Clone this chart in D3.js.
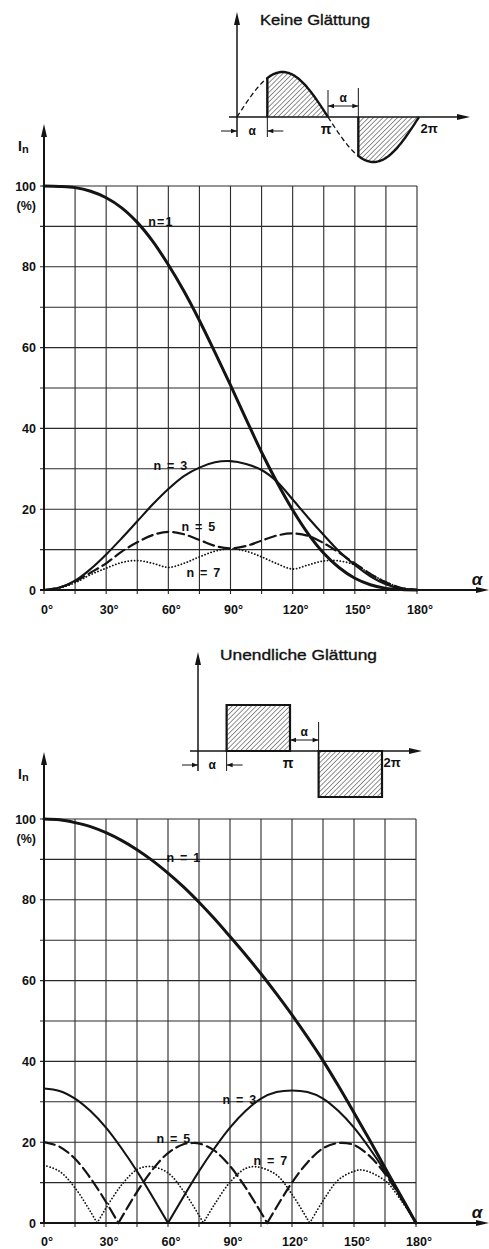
<!DOCTYPE html>
<html>
<head>
<meta charset="utf-8">
<script src="https://cdn.jsdelivr.net/npm/d3@7/dist/d3.min.js"></script>
<style>
  html, body { margin: 0; padding: 0; background: #fff; }
  svg { display: block; }
  text { font-family: "Liberation Sans", Arial, sans-serif; fill: #111; }
</style>
</head>
<body>
<svg id="chart" width="489" height="1249"></svg>
<script>
// ---- Harmonic currents I_n (% of fundamental at alpha = 0) vs. firing angle alpha ----

// Upper panel: no smoothing (phase-cut sine current)
const alphaNoSmooth = [0,7.5,15,22.5,30,37.5,45,52.5,60,67.5,75,82.5,90,97.5,105,112.5,120,127.5,135,142.5,150,157.5,165,172.5,180];
const noSmoothN1 = [100,99.9,99.6,98.7,97.1,94.6,91.0,86.3,80.5,74.0,66.7,58.8,50.7,42.3,34.1,26.6,19.8,13.9,9.1,5.5,2.9,1.3,0.4,0.1,0];
const noSmoothN3 = [0,0.6,2.3,5.2,8.8,12.8,17.0,21.2,25.0,28.2,30.3,31.6,31.9,31.2,29.7,26.8,22.4,17.9,13.6,9.5,6.2,3.4,1.4,0.3,0];
const noSmoothN5 = [0,0.6,2.1,4.3,6.6,9.5,11.8,13.6,14.4,13.8,12.4,10.9,10.3,10.9,12.2,13.5,14.0,13.4,11.6,9.2,6.6,4.0,1.9,0.5,0];
const noSmoothN7 = [0,0.5,1.8,3.8,5.4,6.8,7.3,6.6,5.6,6.6,8.2,9.6,10.2,9.6,8.2,6.5,5.2,6.2,7.2,7.2,6.2,4.0,2.0,0.5,0];

// Lower panel: infinite smoothing (rectangular current blocks)
const alphaFullN1 = [0,7.5,15,22.5,30,37.5,45,52.5,60,67.5,75,82.5,90,97.5,105,112.5,120,127.5,135,142.5,150,157.5,165,172.5,180];
const fullN1 = [100,99.8,99.1,98.1,96.6,94.7,92.4,89.7,86.6,83.2,79.4,75.3,70.9,66.4,61.7,56.7,51.5,46.0,40.2,33.9,27.3,20.6,13.7,6.9,0];
const alphaFullN3 = [0,7.5,15,22.5,30,37.5,45,52.5,60,67.5,75,82.5,90,97.5,105,112.5,120,127.5,135,142.5,150,157.5,165,172.5,180];
const fullN3 = [33.3,32.7,30.8,27.7,23.6,18.5,12.8,6.5,0,6.5,12.8,18.5,23.6,27.7,30.8,32.4,32.8,32.4,30.8,27.7,23.6,18.5,12.8,6.5,0];
const alphaFullN5 = [0,7.5,15,22.5,30,36,45,52.5,60,67.5,72,75,82.5,90,97.5,105,108,112.5,120,127.5,135,142.5,150,157.5,165,172.5,180];
const fullN5 = [20,18.9,15.9,11.1,5.2,0,7.7,13.2,17.3,19.5,19.8,19.7,17.9,14.1,8.8,2.6,0,3.9,10.0,15.0,18.5,19.8,19.3,16.6,12.2,6.4,0];
const alphaFullN7 = [0,7.5,15,22.5,25.7,30,37.5,45,51.4,60,67.5,75,77.1,82.5,90,97.5,102.9,112.5,120,127.5,128.6,135,142.5,150,154.3,165,172.5,180];
const fullN7 = [14.3,12.8,8.7,2.8,0,3.7,9.4,13.2,14.0,12.4,7.9,1.9,0,4.6,10.1,13.5,13.9,11.9,7.1,0.9,0,5.5,10.7,12.8,13.1,10.5,5.8,0];

// Axis ticks
const xTickDeg = [0,30,60,90,120,150,180];
const yTickPct = [0,20,40,60,80,100];
const xGridDeg = d3.range(0, 181, 15);
const yGridPct = d3.range(0, 101, 10);

const svg = d3.select("#chart");
const defs = svg.append("defs");

// diagonal hatching for the waveform sketches
const hatch = defs.append("pattern")
  .attr("id", "hatch").attr("width", 3.4).attr("height", 3.4)
  .attr("patternUnits", "userSpaceOnUse")
  .attr("patternTransform", "rotate(45)");
hatch.append("line").attr("x1", 0).attr("y1", -1).attr("x2", 0).attr("y2", 5)
  .attr("stroke", "#222").attr("stroke-width", 1);

const ink = "#141414";

function arrowUp(g, x, yTip) {
  g.append("path").attr("d", `M${x},${yTip} L${x - 3},${yTip + 13} L${x + 3},${yTip + 13} Z`).attr("fill", ink);
}
function arrowRight(g, xTip, y) {
  g.append("path").attr("d", `M${xTip},${y} L${xTip - 13},${y - 3} L${xTip - 13},${y + 3} Z`).attr("fill", ink);
}

// split a series into arches at interior zeros so the cusps stay sharp
function arches(xs, ys) {
  const pts = xs.map((a, i) => [a, ys[i]]);
  const segs = [];
  let cur = [];
  pts.forEach((p, i) => {
    cur.push(p);
    if (p[1] === 0 && i > 0 && i < pts.length - 1) { segs.push(cur); cur = [p]; }
  });
  segs.push(cur);
  return segs;
}

function panel(cfg) {
  const g = svg.append("g");
  const x = d3.scaleLinear().domain([0, 180]).range([cfg.left, cfg.right]);
  const y = d3.scaleLinear().domain([0, 100]).range([cfg.base, cfg.top]);

  // grid (with small tick stubs past the axes)
  g.append("g").selectAll("line").data(xGridDeg).join("line")
    .attr("x1", d => x(d)).attr("x2", d => x(d))
    .attr("y1", y(100)).attr("y2", y(0) + 4)
    .attr("stroke", "#2a2a2a").attr("stroke-width", 1.1);
  g.append("g").selectAll("line").data(yGridPct).join("line")
    .attr("x1", x(0) - 4).attr("x2", x(180))
    .attr("y1", d => y(d)).attr("y2", d => y(d))
    .attr("stroke", "#2a2a2a").attr("stroke-width", 1.1);

  // axes
  g.append("line").attr("x1", x(0)).attr("x2", x(0)).attr("y1", y(0)).attr("y2", cfg.arrowTop + 6)
    .attr("stroke", ink).attr("stroke-width", 2);
  arrowUp(g, x(0), cfg.arrowTop);
  g.append("line").attr("x1", x(0) - 4).attr("x2", 482).attr("y1", y(0)).attr("y2", y(0))
    .attr("stroke", ink).attr("stroke-width", 2.2);
  arrowRight(g, 489, y(0));

  // tick labels
  g.append("g").selectAll("text").data(yTickPct).join("text")
    .attr("x", 36).attr("y", d => y(d) + 4.5)
    .attr("text-anchor", "end").attr("font-size", 12.5).attr("font-weight", "bold")
    .text(d => d);
  g.append("text").attr("x", 36).attr("y", y(100) + 24)
    .attr("text-anchor", "end").attr("font-size", 12.5).attr("font-weight", "bold").text("(%)");
  g.append("g").selectAll("text").data(xTickDeg).join("text")
    .attr("x", d => x(d) + 3).attr("y", cfg.base + cfg.xLabelDy)
    .attr("text-anchor", "middle").attr("font-size", 12.5).attr("font-weight", "bold")
    .text(d => d + "°");

  // axis titles
  const yl = g.append("text").attr("x", 18).attr("y", cfg.arrowTop + 27)
    .attr("font-size", 14).attr("font-weight", "bold");
  yl.append("tspan").text("I");
  yl.append("tspan").attr("font-size", 11).attr("dy", 2).text("n");
  g.append("text").attr("x", 477).attr("y", y(0) - 5).attr("text-anchor", "middle")
    .attr("font-family", "DejaVu Sans").attr("font-size", 17).attr("font-weight", "bold")
    .attr("font-style", "italic").text("α");

  const styles = {
    1: { w: 3.0, dash: null },
    3: { w: 2.1, dash: null },
    5: { w: 2.2, dash: "11 5" },
    7: { w: 1.8, dash: "0.1 3.1" }
  };
  const line = d3.line().x(d => x(d[0])).y(d => y(d[1])).curve(d3.curveCatmullRom.alpha(0.5));

  cfg.series.forEach(s => {
    const st = styles[s.n];
    const segs = cfg.split ? arches(s.alpha, s.values) : [s.alpha.map((a, i) => [a, s.values[i]])];
    segs.forEach(seg => {
      g.append("path").attr("d", line(seg)).attr("fill", "none")
        .attr("stroke", ink).attr("stroke-width", st.w)
        .attr("stroke-linecap", "round").attr("stroke-linejoin", "round")
        .attr("stroke-dasharray", st.dash);
    });
  });

  cfg.labels.forEach(l => {
    g.append("text").attr("x", l.x).attr("y", l.y).attr("text-anchor", "middle")
      .attr("font-size", 12.5).attr("font-weight", "bold").attr("letter-spacing", 1.2)
      .text(l.t);
  });
  return g;
}

panel({
  left: 44, right: 417, base: 590, top: 186, arrowTop: 124, xLabelDy: 24, split: false,
  series: [
    { n: 1, alpha: alphaNoSmooth, values: noSmoothN1 },
    { n: 3, alpha: alphaNoSmooth, values: noSmoothN3 },
    { n: 5, alpha: alphaNoSmooth, values: noSmoothN5 },
    { n: 7, alpha: alphaNoSmooth, values: noSmoothN7 }
  ],
  labels: [
    { t: "n=1", x: 161, y: 226 },
    { t: "n = 3", x: 171, y: 470 },
    { t: "n = 5", x: 199, y: 531 },
    { t: "n = 7", x: 204, y: 577 }
  ]
});

panel({
  left: 44, right: 416, base: 1223, top: 819, arrowTop: 752, xLabelDy: 23, split: true,
  series: [
    { n: 1, alpha: alphaFullN1, values: fullN1 },
    { n: 3, alpha: alphaFullN3, values: fullN3 },
    { n: 5, alpha: alphaFullN5, values: fullN5 },
    { n: 7, alpha: alphaFullN7, values: fullN7 }
  ],
  labels: [
    { t: "n = 1", x: 184, y: 862 },
    { t: "n = 3", x: 240, y: 1104 },
    { t: "n = 5", x: 174, y: 1143 },
    { t: "n = 7", x: 271, y: 1165 }
  ]
});

// ---- Waveform sketches ----
function dimArrows(g, xa, xb, yy, inward) {
  // arrowheads touching the extension lines
  const a = 6, h = 2.3;
  if (inward) {
    g.append("line").attr("x1", xa).attr("x2", xb).attr("y1", yy).attr("y2", yy).attr("stroke", ink).attr("stroke-width", 1);
    g.append("path").attr("d", `M${xa},${yy} L${xa + a},${yy - h} L${xa + a},${yy + h} Z`).attr("fill", ink);
    g.append("path").attr("d", `M${xb},${yy} L${xb - a},${yy - h} L${xb - a},${yy + h} Z`).attr("fill", ink);
  } else {
    g.append("line").attr("x1", xa - 16).attr("x2", xa).attr("y1", yy).attr("y2", yy).attr("stroke", ink).attr("stroke-width", 1);
    g.append("line").attr("x1", xb).attr("x2", xb + 16).attr("y1", yy).attr("y2", yy).attr("stroke", ink).attr("stroke-width", 1);
    g.append("path").attr("d", `M${xa},${yy} L${xa - a},${yy - h} L${xa - a},${yy + h} Z`).attr("fill", ink);
    g.append("path").attr("d", `M${xb},${yy} L${xb + a},${yy - h} L${xb + a},${yy + h} Z`).attr("fill", ink);
  }
}

function sketch(cfg) {
  const g = svg.append("g");
  const sx = d3.scaleLinear().domain([0, 2 * Math.PI]).range([cfg.x0, cfg.x0 + 2 * cfg.piW]);
  const sy = d3.scaleLinear().domain([-1, 1]).range([cfg.y0 + cfg.amp, cfg.y0 - cfg.amp]);
  const a = cfg.alphaDeg * Math.PI / 180;
  const PI = Math.PI;

  g.append("text").attr("x", cfg.titleX).attr("y", cfg.titleY).attr("font-family", "DejaVu Sans")
    .attr("font-size", 14.5).attr("stroke", ink).attr("stroke-width", 0.35)
    .attr("textLength", cfg.titleW).attr("lengthAdjust", "spacingAndGlyphs").text(cfg.title);

  // axes
  g.append("line").attr("x1", sx(0)).attr("x2", sx(0)).attr("y1", cfg.y0 + 20).attr("y2", cfg.axisTop + 8)
    .attr("stroke", ink).attr("stroke-width", 1.5);
  arrowUp(g, sx(0), cfg.axisTop);
  g.append("line").attr("x1", sx(0) - 8).attr("x2", cfg.axisEnd - 6).attr("y1", cfg.y0).attr("y2", cfg.y0)
    .attr("stroke", ink).attr("stroke-width", 1.6);
  arrowRight(g, cfg.axisEnd, cfg.y0);

  const lg = d3.line().x(d => sx(d[0])).y(d => sy(d[1]));
  const samp = (t0, t1, f) => d3.range(0, 41).map(i => { const t = t0 + (t1 - t0) * i / 40; return [t, f(t)]; });

  if (cfg.kind === "sine") {
    const f = t => Math.sin(t);
    const pos = samp(a, PI, f), neg = samp(PI + a, 2 * PI, f);
    [pos, neg].forEach(p => {
      g.append("path").attr("d", lg(p.concat([[p[p.length - 1][0], 0], [p[0][0], 0]])) + "Z")
        .attr("fill", "url(#hatch)").attr("stroke", "none");
      g.append("path").attr("d", lg([[p[0][0], 0]].concat(p))).attr("fill", "none")
        .attr("stroke", ink).attr("stroke-width", 2.4);
    });
    [samp(0, a, f), samp(PI, PI + a, f)].forEach(p => {
      g.append("path").attr("d", lg(p)).attr("fill", "none").attr("stroke", ink)
        .attr("stroke-width", 1.3).attr("stroke-dasharray", "5 3");
    });
  } else {
    const rects = [[a, PI, 1], [PI + a, 2 * PI, -1]];
    rects.forEach(r => {
      const p = [[r[0], 0], [r[0], r[2]], [r[1], r[2]], [r[1], 0]];
      g.append("path").attr("d", lg(p) + "Z").attr("fill", "url(#hatch)")
        .attr("stroke", ink).attr("stroke-width", 2.2);
    });
  }

  // extension lines and dimensions for alpha
  g.append("line").attr("x1", sx(a)).attr("x2", sx(a)).attr("y1", cfg.y0).attr("y2", cfg.y0 + 20)
    .attr("stroke", ink).attr("stroke-width", 1);
  g.append("line").attr("x1", sx(PI + a)).attr("x2", sx(PI + a)).attr("y1", cfg.y0).attr("y2", cfg.y0 - 29)
    .attr("stroke", ink).attr("stroke-width", 1);
  if (cfg.kind === "sine") {
    g.append("line").attr("x1", sx(PI)).attr("x2", sx(PI)).attr("y1", cfg.y0).attr("y2", cfg.y0 - 27)
      .attr("stroke", ink).attr("stroke-width", 1);
  }
  dimArrows(g, sx(0), sx(a), cfg.y0 + 14, false);
  dimArrows(g, sx(PI), sx(PI + a), cfg.y0 - 11, true);

  const lab = (t, xx, yy, fs) => g.append("text").attr("x", xx).attr("y", yy).attr("text-anchor", "middle")
    .attr("font-family", "DejaVu Sans").attr("font-size", fs).attr("font-weight", "bold").text(t);
  lab("α", (sx(0) + sx(a)) / 2, cfg.y0 + 18, 12);
  lab("α", (sx(PI) + sx(PI + a)) / 2, cfg.y0 - 15, 12);
  lab("π", sx(PI) - 2, cfg.y0 + 17, 14);
  lab("2π", sx(2 * PI) + 10, cfg.y0 + 16, 13);
}

sketch({
  kind: "sine", title: "Keine Glättung", titleX: 260, titleY: 25, titleW: 110,
  x0: 237, y0: 117, piW: 91, amp: 45, alphaDeg: 60, axisTop: 12, axisEnd: 470
});
sketch({
  kind: "rect", title: "Unendliche Glättung", titleX: 220, titleY: 660, titleW: 157,
  x0: 198, y0: 751, piW: 92, amp: 46, alphaDeg: 56, axisTop: 652, axisEnd: 422
});
</script>
</body>
</html>
